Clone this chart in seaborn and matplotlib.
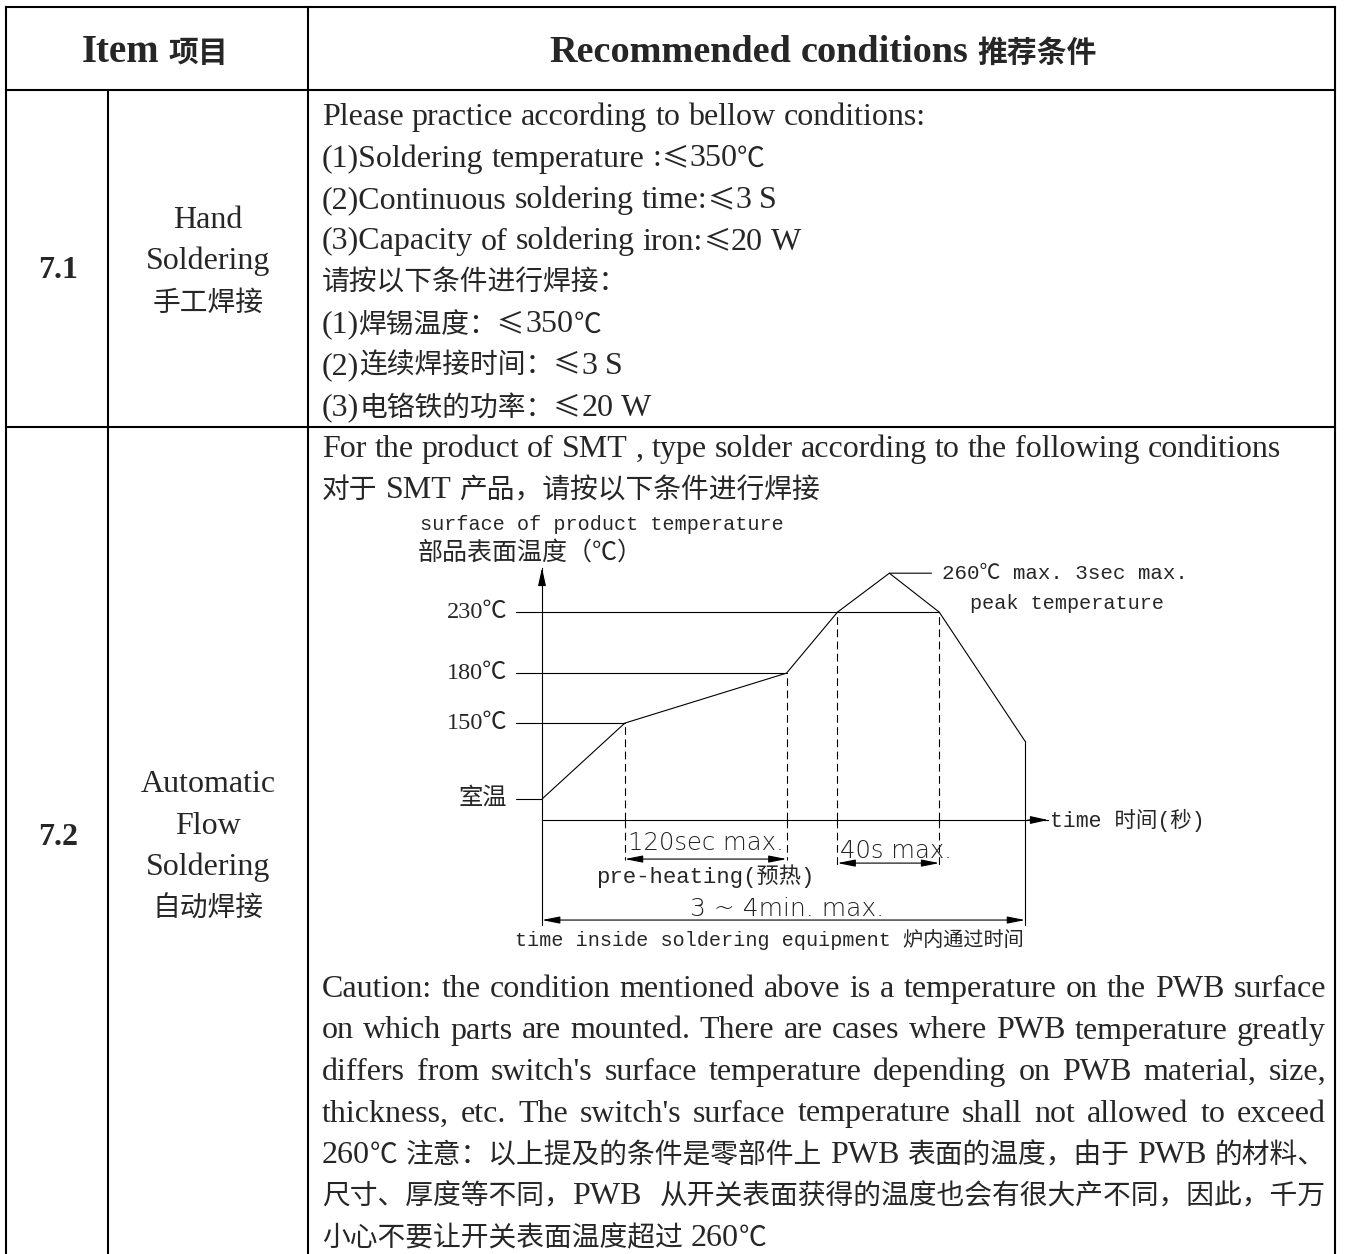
import numpy as np
import matplotlib
matplotlib.use("Agg")
import matplotlib.pyplot as plt
import seaborn as sns

sns.set_theme(style="white")
SERIF = ['Liberation Serif', 'Noto Sans CJK SC']
HAN = ['Noto Sans CJK SC', 'DejaVu Sans']
MONO = ['Liberation Mono', 'Noto Sans CJK SC']
CAD = ['DejaVu Sans', 'Noto Sans CJK SC']
plt.rcParams['font.family'] = SERIF

# ---------------------------------------------------------
# reflow profile (schematic drawing)
# ---------------------------------------------------------
time_s = [0, 30, 150, 170, 190, 210, 240]
temp_c = [25, 150, 180, 230, 260, 230, 120]

guide_temps = [230, 180, 150, 25]
guide_labels = ['230℃', '180℃', '150℃', '室温']
guide_until_s = [210, 150, 30, 0]

preheat_s = [30, 150]
above230_s = [170, 210]
total_s = [0, 240]

# the drawing is not to scale -> piecewise axis scales
T_KNOTS = [0, 30, 150, 170, 190, 210, 240, 300]
T_POS = [0, 83, 245, 296, 348, 398, 484, 656]
C_KNOTS = [0, 25, 150, 180, 230, 260, 300]
C_POS = [0, 21, 97, 147, 208, 247, 299]

# ---------------------------------------------------------
# table texts
# ---------------------------------------------------------
header_item = "Item 项目"
header_cond = "Recommended conditions 推荐条件"
hand_lines = [
    "Please practice according to bellow conditions:",
    "(1)Soldering temperature :≤350℃",
    "(2)Continuous soldering time:≤3 S",
    "(3)Capacity of soldering iron:≤20 W",
    "请按以下条件进行焊接：",
    "(1)焊锡温度：≤350℃",
    "(2)连续焊接时间：≤3 S",
    "(3)电铬铁的功率：≤20 W",
]
hand_name = ["Hand", "Soldering", "手工焊接"]
flow_name = ["Automatic", "Flow", "Soldering", "自动焊接"]
flow_intro = [
    "For the product of SMT , type solder according to the following conditions",
    "对于 SMT 产品，请按以下条件进行焊接",
]
caution_lines = [
    "Caution: the condition mentioned above is a temperature on the PWB surface",
    "on which parts are mounted. There are cases where PWB temperature greatly",
    "differs from switch's surface temperature depending on PWB material, size,",
    "thickness, etc. The switch's surface temperature shall not allowed to exceed",
    "260℃ 注意：以上提及的条件是零部件上 PWB 表面的温度，由于 PWB 的材料、",
    "尺寸、厚度等不同，PWB 从开关表面获得的温度也会有很大产不同，因此，千万",
    "小心不要让开关表面温度超过 260℃",
]

W, H = 1350, 1254
fig = plt.figure(figsize=(W / 100, H / 100), dpi=100)
renderer = fig.canvas.get_renderer()

tab = fig.add_axes([0, 0, 1, 1])
tab.set_xlim(0, W)
tab.set_ylim(H, 0)
tab.axis('off')

LW = 1.5
EN, ZH = 23, 20
L, C1, C2, R = 6, 108, 308, 1335
TOP, HB, RB = 7, 90, 427
for yy in [TOP, HB, RB]:
    tab.plot([L, R], [yy, yy], color='black', lw=LW, solid_capstyle='projecting')
for xx in [L, C2, R]:
    tab.plot([xx, xx], [TOP, H], color='black', lw=LW, solid_capstyle='projecting')
tab.plot([C1, C1], [HB, H], color='black', lw=LW)


def is_wide(ch):
    return ord(ch) >= 0x2000


def split_runs(word):
    out = []
    for ch in word:
        k = is_wide(ch)
        if out and out[-1][0] == k:
            out[-1][1] += ch
        else:
            out.append([k, ch])
    return out


def mixed(ax, s, y, x0=None, xc=None, x1=None, weight='normal', en=EN, zh=ZH):
    # latin runs in serif, chinese runs in the CJK face at its own size
    words = s.split(' ')
    pieces = []
    for w in words:
        objs = []
        for wide, chunk in split_runs(w):
            t = ax.text(0, y, chunk, va='baseline', weight=weight,
                        fontsize=zh if wide else en, family=HAN if wide else SERIF)
            objs.append((t, t.get_window_extent(renderer).width))
        pieces.append(objs)
    wsum = sum(w for objs in pieces for _, w in objs)
    n = len(words) - 1
    gap = en * 100 / 72 * 0.25
    if x1 is not None and n > 0:
        gap = max((x1 - x0 - wsum) / n, 2)
    x = x0 if x0 is not None else xc - (wsum + gap * n) / 2
    for objs in pieces:
        for t, w in objs:
            t.set_x(x)
            x += w
        x += gap


# header
mixed(tab, header_item, 62, xc=155, weight='bold', en=28, zh=21.5)
mixed(tab, header_cond, 62, xc=823, weight='bold', en=27.5, zh=21.5)

# row 7.1
tab.text(58, 278, "7.1", ha='center', va='baseline', fontsize=EN, weight='bold')
for i, s in enumerate(hand_name):
    mixed(tab, s, 228 + 41.5 * i, xc=208)
for i, s in enumerate(hand_lines):
    mixed(tab, s, 125 + 41.5 * i, x0=322)

# row 7.2
tab.text(58, 845, "7.2", ha='center', va='baseline', fontsize=EN, weight='bold')
for i, s in enumerate(flow_name):
    mixed(tab, s, 792 + 41.5 * i, xc=208)
for i, s in enumerate(flow_intro):
    mixed(tab, s, 457 + 41 * i, x0=322)
for i, s in enumerate(caution_lines):
    y = 997 + 41.5 * i
    if i < len(caution_lines) - 1:
        mixed(tab, s, y, x0=322, x1=1326)
    else:
        mixed(tab, s, y, x0=322)

# ---------------------------------------------------------
# profile chart
# ---------------------------------------------------------
ax = fig.add_axes([542 / W, 1 - 820 / H, 506 / W, 252 / H])
ax.patch.set_alpha(0)
sns.lineplot(x=time_s, y=temp_c, ax=ax, color='black', linewidth=0.8,
             sort=False, estimator=None)
ax.set_xscale('function', functions=(lambda v: np.interp(v, T_KNOTS, T_POS),
                                     lambda p: np.interp(p, T_POS, T_KNOTS)))
ax.set_yscale('function', functions=(lambda v: np.interp(v, C_KNOTS, C_POS),
                                     lambda p: np.interp(p, C_POS, C_KNOTS)))
ax.set_xlim(0, 248)
ax.set_ylim(0, 264)
ax.set_xticks([])
ax.set_yticks([])
ax.set_xlabel('')
ax.set_ylabel('')
for s in ['top', 'right']:
    ax.spines[s].set_visible(False)
for s in ['left', 'bottom']:
    ax.spines[s].set_color('black')
    ax.spines[s].set_linewidth(0.8)

ytr = ax.get_yaxis_transform()
xtr = ax.get_xaxis_transform()
thin = dict(color='black', lw=0.8, clip_on=False)
dash = (0, (7, 4))

# axis arrow heads
head = dict(arrowstyle='-|>,head_length=0.9,head_width=0.2', color='black',
            lw=0.8, shrinkA=0, shrinkB=0)
ax.annotate('', xy=(1.0, 0), xytext=(0.96, 0), xycoords='axes fraction', arrowprops=head)
ax.annotate('', xy=(0, 1.0), xytext=(0, 0.93), xycoords='axes fraction', arrowprops=head)

# guide levels
for temp, lab, until in zip(guide_temps, guide_labels, guide_until_s):
    ax.plot([-0.052, 0], [temp, temp], transform=ytr, **thin)
    if until > 0:
        ax.plot([0, until], [temp, temp], **thin)
    ax.text(-0.069, temp, lab, transform=ytr, ha='right', va='center',
            fontsize=17.5, family=SERIF)

# dashed drops
for t, low in [(preheat_s[0], -0.16), (preheat_s[1], -0.16),
               (above230_s[0], -0.19), (above230_s[1], -0.19)]:
    c = np.interp(t, time_s, temp_c)
    ax.plot([t, t], [0, c], ls=dash, **thin)
    ax.plot([t, t], [0, low], transform=xtr, ls=dash, **thin)

# extension lines
ax.plot([total_s[0], total_s[0]], [0, -0.417], transform=xtr, **thin)
ax.plot([total_s[1], total_s[1]], [0, temp_c[-1]], **thin)
ax.plot([total_s[1], total_s[1]], [0, -0.417], transform=xtr, **thin)

# dimension arrows
dims = dict(arrowstyle='<|-|>,head_length=0.9,head_width=0.18', color='black',
            lw=0.8, shrinkA=0, shrinkB=0)
ax.annotate('', xy=(preheat_s[1], -0.155), xytext=(preheat_s[0], -0.155),
            xycoords=xtr, textcoords=xtr, arrowprops=dims)
ax.annotate('', xy=(above230_s[1], -0.171), xytext=(above230_s[0], -0.171),
            xycoords=xtr, textcoords=xtr, arrowprops=dims)
ax.annotate('', xy=(total_s[1], -0.397), xytext=(total_s[0], -0.397),
            xycoords=xtr, textcoords=xtr, arrowprops=dims)

cad = dict(fontsize=17.5, family=CAD, weight='light', color='#222222')
ax.annotate("120sec max.", xy=(preheat_s[0], -0.091), xycoords=xtr, xytext=(3, 0),
            textcoords='offset pixels', ha='left', va='center', **cad)
ax.annotate("40s max.", xy=(above230_s[0], -0.123), xycoords=xtr, xytext=(3, 0),
            textcoords='offset pixels', ha='left', va='center', **cad)
ax.text(np.mean(preheat_s), -0.222, "pre-heating(预热)", transform=xtr, ha='center',
        va='center', fontsize=16, family=MONO)
ax.text(0.484, -0.353, "3 ~ 4min. max.", transform=ax.transAxes, ha='center',
        va='center', **dict(cad, fontsize=18))
ax.text(0.449, -0.476, "time inside soldering equipment 炉内通过时间",
        transform=ax.transAxes, ha='center', va='center', fontsize=14.5, family=MONO)
ax.text(1.004, 0, "time 时间(秒)", transform=ax.transAxes, ha='left', va='center',
        fontsize=15.5, family=MONO)
ax.text(-0.241, 1.171, "surface of product temperature", transform=ax.transAxes,
        ha='left', va='center', fontsize=14.5, family=MONO)
ax.text(-0.245, 1.06, "部品表面温度（℃）", transform=ax.transAxes, ha='left',
        va='center', fontsize=18, family=MONO)
ax.text(0.846, 0.861, "peak temperature", transform=ax.transAxes, ha='left',
        va='center', fontsize=14.5, family=MONO)
ax.annotate("260℃ max. 3sec max.", xy=(time_s[4], temp_c[4]), xytext=(53, 0),
            textcoords='offset pixels', ha='left', va='center', fontsize=15,
            family=MONO, arrowprops=dict(arrowstyle='-', color='black', lw=0.8,
                                         shrinkA=5.5, shrinkB=0))

fig.savefig("out.png", dpi=100, facecolor='white')
